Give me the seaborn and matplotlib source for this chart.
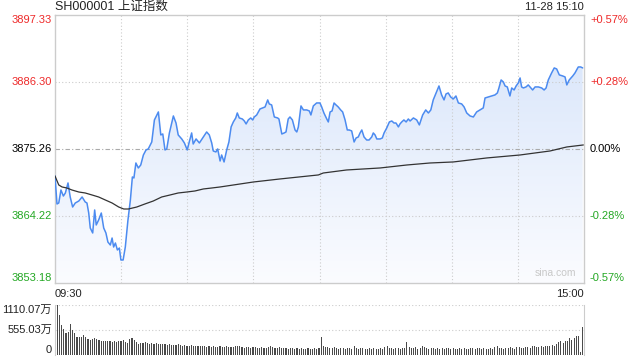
import numpy as np
import matplotlib
matplotlib.use('Agg')
import matplotlib.pyplot as plt
from matplotlib.colors import LinearSegmentedColormap
import seaborn as sns

# minute offsets from 09:30 (0..240, lunch break collapsed) and index values
price_min = [0, 0.9, 1.7, 2.7, 3.8, 4.7, 5.9, 6.9, 8.0, 9.2, 10.8, 12.3, 13.7, 14.5, 15.3, 16.0, 17.1, 18.0, 18.7, 19.8,
             21.0, 22.1, 23.1, 24.0, 25.1, 25.9, 26.6, 27.4, 28.3, 29.2, 29.9, 30.9, 31.9, 33.1, 34.2, 35.1, 35.8, 36.7, 37.8, 38.9,
             40.1, 41.3, 42.3, 43.9, 45.1, 46.9, 48.0, 48.9, 49.9, 50.7, 51.9, 53.7, 54.9, 55.9, 57.5, 58.7, 60.0, 60.9, 62.0, 62.7,
             64.0, 65.5, 67.0, 68.8, 70.0, 71.1, 71.8, 73.0, 73.8, 74.9, 75.6, 76.7, 77.9, 78.9, 79.9, 80.9, 82.0, 82.7, 83.6, 85.0,
             85.9, 86.7, 87.7, 88.8, 89.7, 90.4, 91.5, 93.0, 94.2, 95.3, 96.5, 97.2, 98.3, 99.5, 101.0, 101.6, 102.9, 104.0, 104.8, 105.8,
             106.6, 107.7, 108.9, 109.7, 110.4, 111.6, 112.7, 114.2, 115.4, 116.1, 117.2, 118.7, 120.2, 121.0, 122.0, 123.3, 124.0, 124.8, 125.7, 126.6,
             127.5, 128.5, 129.6, 130.5, 131.6, 132.6, 133.5, 134.6, 135.7, 136.6, 137.6, 138.4, 139.2, 140.2, 141.4, 142.5, 143.7, 144.4, 145.2, 146.0,
             147.5, 148.5, 149.3, 150.5, 151.7, 152.8, 153.8, 154.7, 155.8, 156.5, 157.3, 158.3, 159.3, 160.3, 161.1, 162.6, 164.1, 165.3, 166.8, 168.2,
             169.4, 170.5, 171.6, 172.9, 174.2, 175.4, 176.5, 177.4, 178.4, 179.5, 180.7, 181.9, 183.0, 184.5, 185.6, 186.8, 188.3, 189.8, 191.3, 192.8,
             194.3, 195.1, 196.6, 198.1, 199.6, 200.7, 201.4, 202.4, 203.4, 204.2, 205.2, 206.4, 207.2, 208.3, 209.2, 210.2, 211.0, 211.7, 212.5, 213.7,
             214.7, 215.5, 216.7, 217.8, 219.3, 220.8, 221.9, 222.8, 223.8, 225.3, 226.5, 227.6, 228.8, 230.3, 231.4, 232.2, 233.3, 234.9, 235.9, 237.4,
             238.5, 239.4]
price = [3870.81, 3866.20, 3866.36, 3868.50, 3867.51, 3868.01, 3869.66, 3867.35, 3865.70, 3866.36, 3866.69, 3867.35, 3866.53, 3866.36, 3864.71, 3862.24, 3861.42, 3865.21, 3862.74, 3863.56,
         3864.71, 3862.24, 3861.42, 3859.93, 3859.44, 3860.59, 3859.11, 3859.77, 3858.62, 3858.94, 3856.97, 3856.97, 3859.11, 3863.56, 3866.86, 3870.65, 3870.48, 3872.95, 3872.13, 3872.62,
         3874.27, 3875.10, 3875.26, 3876.41, 3880.04, 3881.36, 3877.57, 3877.73, 3875.10, 3875.26, 3877.90, 3880.70, 3879.54, 3877.57, 3876.91, 3876.25, 3875.10, 3876.41, 3877.90, 3876.08,
         3876.91, 3876.25, 3877.07, 3878.06, 3877.57, 3876.25, 3874.93, 3874.77, 3875.26, 3873.28, 3874.27, 3873.12, 3875.10, 3876.41, 3878.89, 3879.71, 3880.37, 3881.19, 3880.37, 3880.20,
         3879.87, 3879.38, 3880.04, 3880.37, 3880.04, 3880.53, 3880.86, 3881.85, 3882.02, 3882.18, 3883.34, 3882.68, 3882.51, 3880.53, 3880.37, 3880.20, 3877.73, 3877.90, 3878.06, 3880.20,
         3880.53, 3880.04, 3878.39, 3878.06, 3878.89, 3882.35, 3881.69, 3881.69, 3881.52, 3880.86, 3882.35, 3882.84, 3882.84, 3882.18, 3881.19, 3880.20, 3879.71, 3881.36, 3881.52, 3882.84,
         3882.51, 3882.18, 3881.69, 3881.36, 3880.04, 3878.39, 3878.39, 3878.23, 3876.41, 3877.07, 3877.24, 3877.90, 3878.39, 3877.24, 3876.74, 3876.74, 3877.24, 3877.90, 3877.57, 3876.91,
         3876.91, 3877.07, 3877.90, 3878.72, 3879.71, 3879.87, 3879.54, 3879.54, 3878.89, 3879.38, 3879.71, 3880.04, 3879.71, 3880.20, 3879.87, 3880.37, 3880.04, 3879.22, 3880.86, 3881.69,
         3881.19, 3881.69, 3883.34, 3884.49, 3885.64, 3884.16, 3883.34, 3884.32, 3884.49, 3883.83, 3883.50, 3883.99, 3882.84, 3882.68, 3882.18, 3881.19, 3880.70, 3880.53, 3881.36, 3881.69,
         3882.02, 3883.66, 3883.83, 3883.99, 3884.16, 3884.49, 3885.31, 3886.63, 3886.30, 3885.64, 3885.48, 3883.99, 3885.31, 3884.98, 3885.64, 3886.14, 3886.96, 3885.48, 3885.31, 3885.48,
         3885.81, 3885.48, 3884.98, 3885.48, 3885.48, 3885.31, 3884.98, 3885.31, 3886.63, 3887.78, 3888.61, 3888.44, 3887.46, 3887.29, 3887.13, 3885.81, 3886.63, 3887.29, 3887.78, 3888.77,
         3888.77, 3888.61]

avg_min = [0, 1.7, 3.2, 5.4, 7.7, 10.8, 13.7, 16.8, 19.8, 22.8, 25.9, 28.9, 31.2, 33.3, 37.1, 40.8, 44.6, 48.4, 52.2, 55.9,
           59.8, 63.5, 67.3, 71.1, 74.9, 90.0, 102.1, 119.5, 121.7, 132.3, 147.5, 159.6, 170.1, 180.7, 195.9, 211.0, 224.6, 232.2, 239.7]
avg_price = [3870.81, 3869.33, 3869.00, 3868.83, 3868.50, 3868.17, 3868.01, 3867.68, 3867.35, 3866.86, 3866.36, 3865.70, 3865.37, 3865.37, 3865.70, 3866.20, 3866.69, 3867.35, 3867.68, 3868.01,
             3868.17, 3868.34, 3868.67, 3868.83, 3869.00, 3869.82, 3870.32, 3870.98, 3871.30, 3871.80, 3872.13, 3872.62, 3872.95, 3873.12, 3873.78, 3874.27, 3874.93, 3875.59, 3875.92]

# volume per minute, in 万
volume = [350, 1110, 880, 670, 580, 490, 510, 690, 560, 490,
          400, 400, 410, 440, 390, 350, 340, 350, 380, 360,
          330, 300, 310, 300, 320, 300, 280, 300, 290, 310,
          300, 330, 290, 270, 360, 380, 330, 290, 250, 270,
          270, 290, 260, 250, 270, 250, 260, 250, 240, 250,
          240, 230, 250, 230, 220, 230, 240, 220, 210, 230,
          210, 200, 220, 190, 200, 210, 190, 200, 190, 180,
          190, 180, 200, 180, 170, 190, 180, 170, 190, 180,
          170, 180, 200, 210, 190, 170, 160, 180, 170, 160,
          170, 180, 160, 150, 170, 160, 150, 180, 200, 170,
          160, 150, 170, 160, 150, 160, 140, 150, 160, 140,
          150, 140, 160, 140, 130, 150, 140, 130, 150, 140,
          150, 400,
          200, 180, 170, 160, 150, 170, 150, 140, 160,
          150, 140, 160, 150, 130, 190, 150, 140, 160, 150,
          140, 130, 150, 140, 160, 140, 130, 150, 140, 170,
          190, 160, 150, 140, 160, 150, 140, 150, 160, 290,
          180, 160, 150, 170, 140, 150, 200, 170, 150, 140,
          160, 150, 140, 150, 130, 150, 140, 160, 150, 140,
          150, 140, 130, 160, 140, 150, 140, 130, 150, 160,
          140, 150, 160, 140, 150, 130, 140, 150, 140, 170,
          200, 160, 150, 140, 160, 150, 170, 160, 140, 180,
          170, 160, 150, 180, 170, 160, 190, 200, 170, 180,
          190, 180, 200, 190, 200, 220, 210, 250, 280, 300,
          270, 310, 320, 370, 330, 380, 420, 430, 70, 620]
vol_min = list(range(len(volume)))

price_ticks = [3853.18, 3864.22, 3875.26, 3886.30, 3897.33]
price_labels = ['3853.18', '3864.22', '3875.26', '3886.30', '3897.33']
pct_labels = ['-0.57%', '-0.28%', '0.00%', '+0.28%', '+0.57%']
vol_ticks = [0, 555.03, 1110.07]
vol_labels = ['0', '555.03万', '1110.07万']

RED = '#ee2a2a'
GREEN = '#24a824'
GRID = '#cccccc'

sns.set_style('white')
plt.rcParams['font.family'] = ['Liberation Sans', 'Noto Sans CJK SC', 'DejaVu Sans']

W, H = 640, 360
fig = plt.figure(figsize=(6.4, 3.6), dpi=100)
ax = fig.add_axes([55 / W, 1 - 283 / H, 529 / W, 268 / H])
axv = fig.add_axes([55 / W, 1 - 355 / H, 529 / W, 50 / H])

lo, hi = price_ticks[0], price_ticks[-1]

# gradient fill under the price line
cmap = LinearSegmentedColormap.from_list('fill', ['#d5e3fa', '#fbfcff'])
grad = np.linspace(0, 1, 256).reshape(-1, 1)
im = ax.imshow(grad, extent=[0, 240, lo, hi], origin='upper', aspect='auto', cmap=cmap, zorder=1)
poly = ax.fill_between(price_min, price, lo, color='none', lw=0)
im.set_clip_path(poly.get_paths()[0], transform=ax.transData)

sns.lineplot(x=price_min, y=price, ax=ax, color='#4c8bf0', lw=1.1, zorder=4)
sns.lineplot(x=avg_min, y=avg_price, ax=ax, color='#333333', lw=0.9, zorder=5)

ax.set_xlim(0, 240)
ax.set_ylim(lo, hi)
ax.set_xticks([])
ax.set_yticks([])
ax.set_xlabel('')
ax.set_ylabel('')
for m in range(30, 240, 30):
    ax.axvline(m, color=GRID, lw=0.8, ls=(0, (1, 2)), zorder=2)
for t in price_ticks[1:-1]:
    if t == price_ticks[2]:
        ax.axhline(t, color='#aaaaaa', lw=0.8, ls=(0, (4, 2, 1, 2)), zorder=2)
    else:
        ax.axhline(t, color=GRID, lw=0.8, ls=(0, (1, 2)), zorder=2)
for s in ax.spines.values():
    s.set_color(GRID)
    s.set_linewidth(1)

# price / percentage labels
tr_l = matplotlib.transforms.blended_transform_factory(fig.transFigure, ax.transData)
cols = [GREEN, GREEN, 'black', RED, RED]
for i, (t, lab, pct) in enumerate(zip(price_ticks, price_labels, pct_labels)):
    va = 'bottom' if i == 0 else ('top' if i == len(price_ticks) - 1 else 'center')
    fig.text(52 / W, t, lab, transform=tr_l, ha='right', va=va, fontsize=8, color=cols[i])
    fig.text(590 / W, t, pct, transform=tr_l, ha='left', va=va, fontsize=8, color=cols[i])

ax.text(0.985, 0.02, 'sina.com', transform=ax.transAxes, ha='right', va='bottom',
        fontsize=7.5, color='#c8c8c8')

# volume bars
sns.barplot(x=vol_min, y=volume, native_scale=True, color='#4a4a4a', saturation=1,
            width=0.5, linewidth=0, ax=axv)
axv.set_xlim(0, 240.5)
axv.set_ylim(0, vol_ticks[-1])
axv.set_xticks([])
axv.set_yticks([])
axv.set_xlabel('')
axv.set_ylabel('')
for t in vol_ticks[1:]:
    axv.axhline(t, color=GRID, lw=0.8, ls=(0, (1, 2)), zorder=0)
axv.spines['top'].set_visible(False)
axv.spines['bottom'].set_visible(False)
axv.spines['left'].set_color(GRID)
axv.spines['right'].set_color(GRID)

tr_v = matplotlib.transforms.blended_transform_factory(fig.transFigure, axv.transData)
for i, (t, lab) in enumerate(zip(vol_ticks, vol_labels)):
    va = 'bottom' if i == 0 else ('top' if i == len(vol_ticks) - 1 else 'center')
    fig.text(52 / W, t, lab, transform=tr_v, ha='right', va=va, fontsize=8, color='#222222')

# header and time labels
fig.text(55 / W, 1 - 7 / H, 'SH000001 上证指数', ha='left', va='center', fontsize=9, color='#222222')
fig.text(584 / W, 1 - 7 / H, '11-28 15:10', ha='right', va='center', fontsize=8, color='#222222')
fig.text(55 / W, 1 - 294 / H, '09:30', ha='left', va='center', fontsize=8, color='#222222')
fig.text(584 / W, 1 - 294 / H, '15:00', ha='right', va='center', fontsize=8, color='#222222')

fig.savefig('out.png', dpi=100)
